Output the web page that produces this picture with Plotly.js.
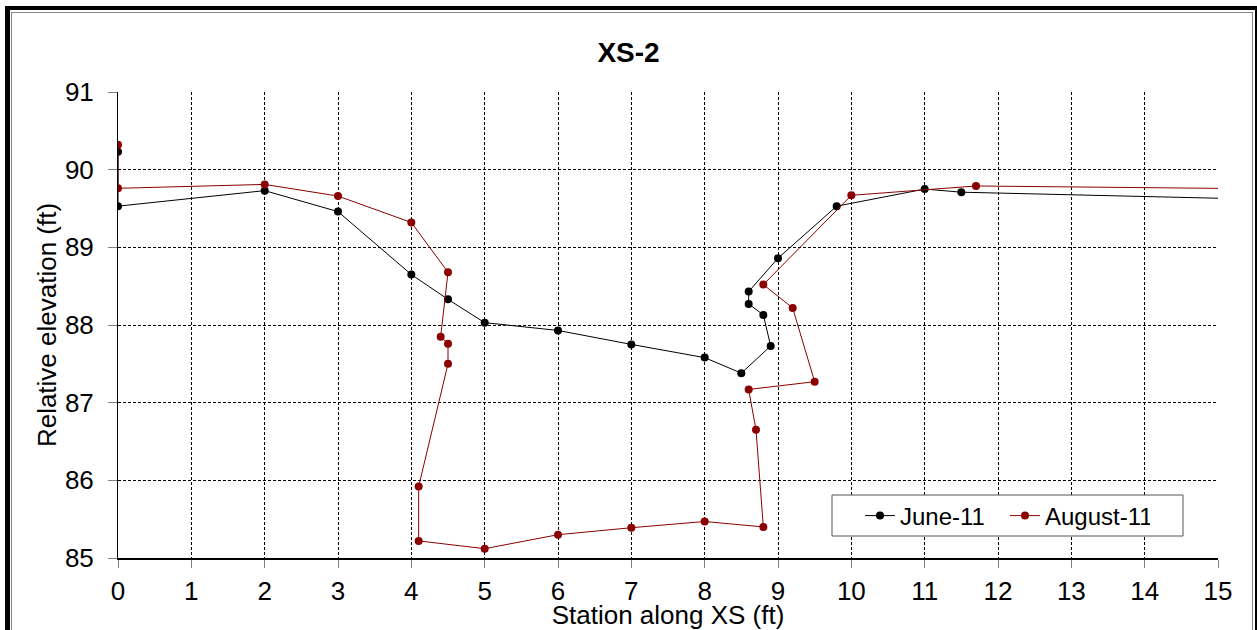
<!DOCTYPE html>
<html>
<head>
<meta charset="utf-8">
<script src="https://cdn.plot.ly/plotly-3.0.1.min.js"></script>
<style>
  html, body { margin: 0; padding: 0; background: #fff; }
  #wrap { position: relative; width: 1257px; height: 630px; overflow: hidden; }
  #chart { position: absolute; left: 0; top: 0; width: 1257px; height: 630px; }
  #frameOuter { position: absolute; left: 5px; top: 6px; width: 1245px; height: 700px;
    border-left: 5px solid #000; border-top: 4px solid #000; border-right: 2px solid #000; pointer-events: none; }
  #frameInner { position: absolute; left: 11px; top: 12px; width: 1240px; height: 700px;
    border: 1px solid #888; pointer-events: none; }
</style>
</head>
<body>
<div id="wrap">
  <div id="chart"></div>
  <div id="frameOuter"></div>
  <div id="frameInner"></div>
</div>
<script>
// June-11 survey (station ft, relative elevation ft)
const juneX = [0, 0, 2, 3, 4, 4.5, 5, 6, 7, 8, 8.5, 8.9, 8.8, 8.6, 8.6, 9, 9.8, 11, 11.5, 16];
const juneY = [90.23, 89.53, 89.73, 89.46, 88.65, 88.33, 88.03, 87.93, 87.75, 87.58, 87.38, 87.73, 88.13, 88.27, 88.43, 88.86, 89.53, 89.75, 89.71, 89.61];
// August-11 survey
const augX = [0, 0, 2, 3, 4, 4.5, 4.4, 4.5, 4.5, 4.1, 4.1, 5, 6, 7, 8, 8.8, 8.7, 8.6, 9.5, 9.2, 8.8, 10, 11.7, 16];
const augY = [90.32, 89.76, 89.81, 89.66, 89.32, 88.68, 87.85, 87.76, 87.50, 85.92, 85.22, 85.12, 85.30, 85.39, 85.47, 85.40, 86.65, 87.17, 87.27, 88.22, 88.52, 89.67, 89.79, 89.75];
const seriesNames = ['June-11', 'August-11'];
const xTicks = [0,1,2,3,4,5,6,7,8,9,10,11,12,13,14,15];
const yTicks = [85,86,87,88,89,90,91];

const font = 'Arial, "Liberation Sans", sans-serif';

const traces = [
  { x: juneX, y: juneY, name: seriesNames[0], type: 'scatter', mode: 'lines+markers',
    line: { color: '#000000', width: 1 }, marker: { color: '#000000', size: 8 } },
  { x: augX, y: augY, name: seriesNames[1], type: 'scatter', mode: 'lines+markers',
    line: { color: '#8B0000', width: 1 }, marker: { color: '#8B0000', size: 8 } }
];

const PW = 1100, PH = 466; // plot area size in px
const layout = {
  width: 1257, height: 630,
  margin: { l: 118, r: 39, t: 92, b: 72 },
  paper_bgcolor: '#ffffff', plot_bgcolor: '#ffffff',
  font: { family: font, color: '#000', size: 26 },
  title: { text: '<b>XS-2</b>', font: { family: font, size: 28, color: '#000' },
           x: 0.5, xref: 'container', xanchor: 'center', y: 1 - 52/630, yref: 'container', yanchor: 'middle' },
  xaxis: {
    range: [0, 15], tickvals: xTicks, ticktext: xTicks.map(String),
    showline: true, linecolor: '#000', linewidth: 2,
    ticks: 'outside', ticklen: 8, tickcolor: '#808080', tickwidth: 1,
    showgrid: true, gridcolor: '#000', gridwidth: 1, griddash: '3px,2px',
    zeroline: false, tickfont: { family: font, size: 26 }, ticklabelstandoff: 1,
    title: { text: 'Station along XS (ft)', font: { family: font, size: 26 }, standoff: 0 },
    fixedrange: true
  },
  yaxis: {
    range: [85, 91], tickvals: yTicks, ticktext: yTicks.map(String),
    showline: true, linecolor: '#000', linewidth: 1,
    ticks: 'outside', ticklen: 9, tickcolor: '#808080', tickwidth: 1,
    showgrid: true, gridcolor: '#000', gridwidth: 1, griddash: '3px,2px',
    zeroline: false, tickfont: { family: font, size: 26 }, ticklabelstandoff: 9,
    title: { text: 'Relative elevation (ft)', font: { family: font, size: 26 }, standoff: 0 },
    fixedrange: true
  },
  shapes: [{
    type: 'rect', xref: 'paper', yref: 'paper', layer: 'above',
    x0: (832-118)/PW, x1: (1183-118)/PW, y0: (558-536)/PH, y1: (558-495)/PH,
    fillcolor: '#ffffff', line: { color: '#555', width: 1 }
  }],
  showlegend: true,
  legend: {
    orientation: 'h', x: (860-118)/PW, y: (558-516)/PH, xanchor: 'left', yanchor: 'middle',
    bgcolor: 'rgba(0,0,0,0)', borderwidth: 0, entrywidth: 100,
    font: { family: font, size: 24, color: '#000' }, itemwidth: 30, tracegroupgap: 0
  }
};

Plotly.newPlot('chart', traces, layout, { displayModeBar: false, staticPlot: true });
</script>
</body>
</html>
